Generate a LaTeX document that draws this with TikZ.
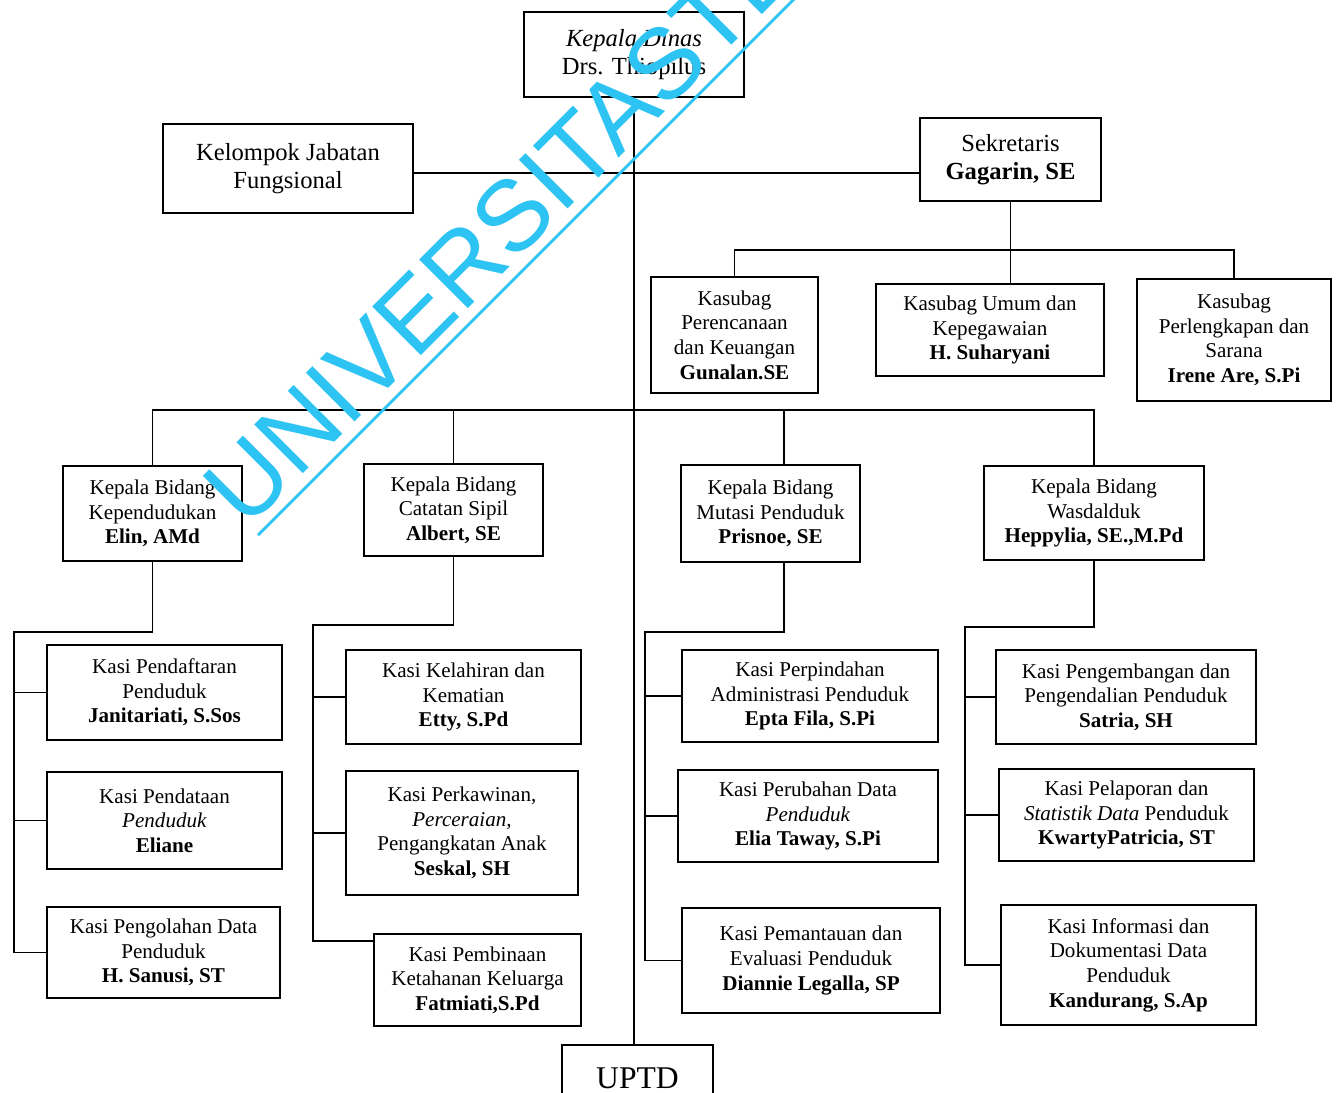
\documentclass[tikz,border=0pt]{standalone}
\usepackage{fontspec}
\setmainfont{Liberation Serif}
\newfontfamily\wmfont{Liberation Sans}
\definecolor{wmcol}{RGB}{45,196,243}
\tikzset{
  box/.style={draw, line width=1.2pt, align=center, inner sep=0pt, font=\fontsize{12}{14}\selectfont},
  bigbox/.style={box, font=\fontsize{14}{16}\selectfont},
  link/.style={line width=1pt},
}
\newcommand\obox[7][box]{\node[#1, minimum width={(#5-#3)*0.02cm}, minimum height={(#6-#4)*0.02cm}] (#2) at ({(#3+#5)/2},{(#4+#6)/2}) {#7};}
\begin{document}
\begin{tikzpicture}[x=0.02cm, y=-0.02cm]
\useasboundingbox (0,0) rectangle (1337,1092);
\fill[white] (0,0) rectangle (1337,1092);
% top level
\obox[bigbox]{kd}{524}{12}{744}{97}{\itshape Kepala Dinas\\Drs. Thiopilus}
\obox[bigbox]{kjf}{163}{124}{413}{213}{Kelompok Jabatan\\Fungsional}
\obox[bigbox]{sek}{920}{118}{1101}{201}{Sekretaris\\\textbf{Gagarin, SE}}
% kasubag
\obox{ks1}{651}{277}{818}{393}{Kasubag\\Perencanaan\\dan Keuangan\\\textbf{Gunalan.SE}}
\obox{ks2}{876}{284}{1104}{376}{Kasubag Umum dan\\Kepegawaian\\\textbf{H. Suharyani}}
\obox{ks3}{1137}{279}{1331}{401}{Kasubag\\Perlengkapan dan\\Sarana\\\textbf{Irene Are, S.Pi}}
% bidang
\obox{b1}{63}{466}{242}{561}{Kepala Bidang\\Kependudukan\\\textbf{Elin, AMd}}
\obox{b2}{364}{464}{543}{556}{Kepala Bidang\\Catatan Sipil\\\textbf{Albert, SE}}
\obox{b3}{681}{465}{860}{562}{Kepala Bidang\\Mutasi Penduduk\\\textbf{Prisnoe, SE}}
\obox{b4}{984}{466}{1204}{560}{Kepala Bidang\\Wasdalduk\\\textbf{Heppylia, SE.,M.Pd}}
% kasi
\obox{k11}{47}{645}{282}{740}{Kasi Pendaftaran\\Penduduk\\\textbf{Janitariati, S.Sos}}
\obox{k12}{47}{772}{282}{869}{Kasi Pendataan\\\textit{Penduduk}\\\textbf{Eliane}}
\obox{k13}{47}{907}{280}{998}{Kasi Pengolahan Data\\Penduduk\\\textbf{H. Sanusi, ST}}
\obox{k21}{346}{650}{581}{744}{Kasi Kelahiran dan\\Kematian\\\textbf{Etty, S.Pd}}
\obox{k22}{346}{771}{578}{895}{Kasi Perkawinan,\\\textit{Perceraian,}\\Pengangkatan Anak\\\textbf{Seskal, SH}}
\obox{k23}{374}{934}{581}{1026}{Kasi Pembinaan\\Ketahanan Keluarga\\\textbf{Fatmiati,S.Pd}}
\obox{k31}{682}{650}{938}{742}{Kasi Perpindahan\\Administrasi Penduduk\\\textbf{Epta Fila, S.Pi}}
\obox{k32}{678}{770}{938}{862}{Kasi Perubahan Data\\\textit{Penduduk}\\\textbf{Elia Taway, S.Pi}}
\obox{k33}{682}{908}{940}{1013}{Kasi Pemantauan dan\\Evaluasi Penduduk\\\textbf{Diannie Legalla, SP}}
\obox{k41}{996}{650}{1256}{744}{Kasi Pengembangan dan\\Pengendalian Penduduk\\\textbf{Satria, SH}}
\obox{k42}{999}{769}{1254}{861}{Kasi Pelaporan dan\\\textit{Statistik Data} Penduduk\\\textbf{KwartyPatricia, ST}}
\obox{k43}{1001}{905}{1256}{1025}{Kasi Informasi dan\\Dokumentasi Data\\Penduduk\\\textbf{Kandurang, S.Ap}}
\begin{scope}
\clip (0,0) rectangle (1337,1092);
\obox{uptd}{562}{1045}{713}{1112}{\fontsize{18}{20}\selectfont UPTD}
\end{scope}
% coordinates
\coordinate (hk) at (0,173);
\coordinate (hs) at (0,250);
\coordinate (hb) at (0,410);
\coordinate (x3) at (784,0);
\coordinate (e1) at (14,632);
\coordinate (e2) at (313,625);
\coordinate (e3) at (645,632);
\coordinate (e4) at (965,627);
\coordinate (s23) at (0,941);
% connectors
\draw[link] (kd.south) -- (kd.south |- uptd.north);
\draw[link] (kjf.east |- hk) -- (sek.west |- hk);
\draw[link] (sek.south) -- (sek.south |- ks2.north);
\draw[link] (ks1.north) -- (ks1.north |- hs) -- (ks3.north |- hs) -- (ks3.north);
\draw[link] (b1.north) -- (b1.north |- hb) -- (b4.north |- hb) -- (b4.north);
\draw[link] (b2.north) -- (b2.north |- hb);
\draw[link] (b3.north -| x3) -- (hb -| x3);
% group 1
\draw[link] (b1.south) |- (e1) -- (e1 |- k13.west) -- (k13.west);
\draw[link] (e1 |- k11.west) -- (k11.west);
\draw[link] (e1 |- k12.west) -- (k12.west);
% group 2
\draw[link] (b2.south) |- (e2) -- (e2 |- s23) -- (k23.west |- s23);
\draw[link] (e2 |- k21.west) -- (k21.west);
\draw[link] (e2 |- k22.west) -- (k22.west);
% group 3
\draw[link] (b3.south -| x3) |- (e3) -- (e3 |- k33.west) -- (k33.west);
\draw[link] (e3 |- k31.west) -- (k31.west);
\draw[link] (e3 |- k32.west) -- (k32.west);
% group 4
\draw[link] (b4.south) |- (e4) -- (e4 |- k43.west) -- (k43.west);
\draw[link] (e4 |- k41.west) -- (k41.west);
\draw[link] (e4 |- k42.west) -- (k42.west);
% watermark
\begin{scope}
\clip (0,0) rectangle (1337,1092);
\node[text=wmcol, rotate=45, anchor=base west, inner sep=0pt, font=\wmfont\fontsize{57}{57}\selectfont] (wm) at (246,531) {UNIVERSITASTE};
\draw[wmcol, line width=1.6pt] (258,535) -- ++(560,-560);
\end{scope}
\end{tikzpicture}
\end{document}
